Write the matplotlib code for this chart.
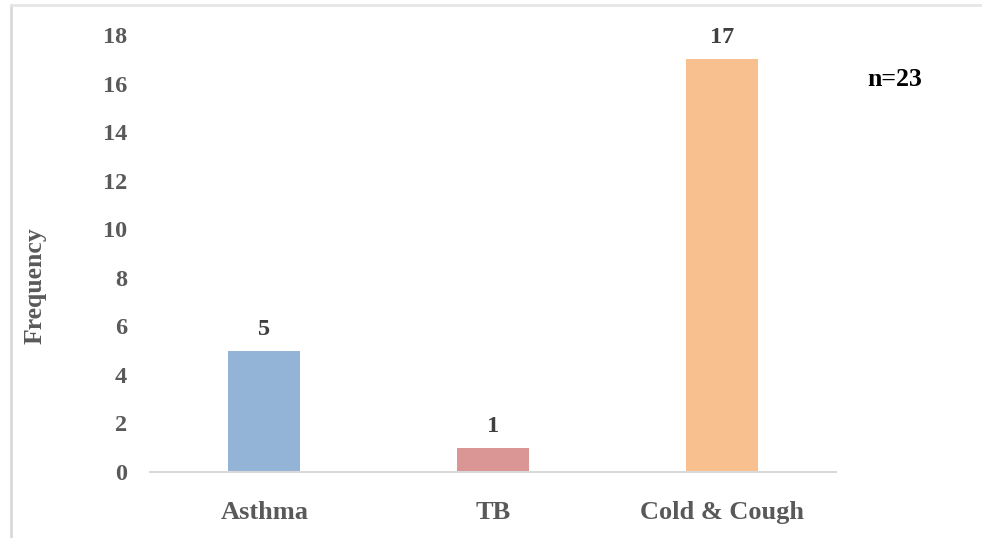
import matplotlib
matplotlib.use("Agg")
import matplotlib.pyplot as plt
from matplotlib.lines import Line2D

categories = ["Asthma", "TB", "Cold & Cough"]
values = [5, 1, 17]
colors = ["#93b3d7", "#da9694", "#f9c08f"]
yticks = [0, 2, 4, 6, 8, 10, 12, 14, 16, 18]

plt.rcParams['font.family'] = ['Liberation Serif', 'DejaVu Serif']

fig = plt.figure(figsize=(9.82, 5.38), dpi=100)
ax = fig.add_axes([150/982, 66/538, 686/982, 437/538])

x = range(len(categories))
bars = ax.bar(x, values, width=0.315, color=colors, zorder=2)
for xi, v in zip(x, values):
    ax.text(xi, v + 0.45, str(v), ha="center", va="bottom", fontsize=17.5,
            fontweight="bold", color="#404040")

ax.set_xlim(-0.5, 2.5)
ax.set_ylim(0, 18)
ax.set_yticks(yticks)
ax.set_yticklabels([str(t) for t in yticks], fontsize=17.5, fontweight="bold", color="#595959")
ax.set_xticks(list(x))
ax.set_xticklabels(categories, fontsize=19, fontweight="bold", color="#595959")
ax.tick_params(axis="both", length=0)
ax.tick_params(axis="y", pad=16.5)
ax.tick_params(axis="x", pad=21)
for s in ["top", "right", "left"]:
    ax.spines[s].set_visible(False)
ax.spines["bottom"].set_color("#d9d9d9")
ax.spines["bottom"].set_linewidth(1.5)

fig.text(35/982, 1 - 286/538, "Frequency", rotation=90, ha="center", va="center",
         fontsize=18.5, fontweight="bold", color="#595959")
fig.text(895/982, 1 - 80/538, "n=23", ha="center", va="center",
         fontsize=18.5, fontweight="bold", color="black")

# outer frame lines
fig.add_artist(Line2D([11/982, 11/982], [0, 1 - 5/538], transform=fig.transFigure,
                      color="#d9d9d9", lw=2))
fig.add_artist(Line2D([11/982, 1], [1 - 5/538, 1 - 5/538], transform=fig.transFigure,
                      color="#e6e6e6", lw=2))

fig.savefig("out.png", dpi=100)
